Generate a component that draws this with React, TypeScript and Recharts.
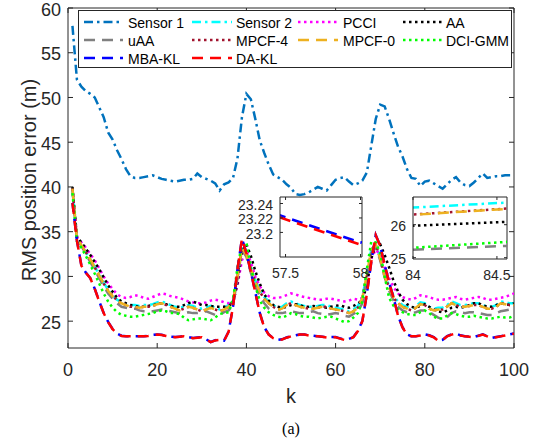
import React from 'react';
import { LineChart, Line, XAxis, YAxis, ReferenceLine } from 'recharts';

// time steps
const K = Array.from({ length: 100 }, (_, i) => i + 1);

const SENSOR_1 = [
  58.0, 52.0, 51.2, 50.7, 50.4, 50.0, 48.9, 47.8, 46.1, 45.3,
  44.1, 43.1, 42.0, 41.2, 41.0, 41.0, 41.1, 41.2, 41.3, 41.1,
  40.9, 40.8, 40.7, 40.6, 40.7, 40.8, 40.8, 40.9, 41.5, 41.1,
  40.9, 40.7, 40.4, 39.6, 40.3, 40.5, 41.0, 43.2, 47.8, 50.4,
  49.8, 47.6, 45.2, 43.8, 42.5, 41.4, 41.1, 40.8, 40.3, 39.9,
  39.2, 39.1, 39.2, 39.4, 39.7, 40.0, 39.8, 39.6, 40.2, 40.8,
  41.0, 41.1, 40.6, 40.2, 40.4, 40.7, 41.6, 44.6, 47.6, 49.2,
  49.0, 47.6, 46.0, 44.5, 43.4, 42.0, 41.0, 40.9, 40.1, 40.6,
  40.7, 40.4, 40.1, 39.8, 40.3, 40.8, 41.1, 40.5, 40.2, 40.1,
  40.5, 41.0, 41.5, 41.0, 41.1, 41.2, 41.2, 41.3, 41.3, 41.3,
];

const SENSOR_2 = [
  39.6, 34.3, 33.5, 32.7, 31.9, 31.1, 30.2, 29.3, 28.5, 27.9,
  27.4, 27.1, 26.9, 26.8, 26.8, 26.7, 26.8, 26.8, 26.9, 27.1,
  27.2, 27.0, 26.8, 26.6, 26.5, 26.6, 26.8, 26.7, 26.5, 26.4,
  26.5, 26.7, 26.5, 26.3, 26.5, 26.8, 27.4, 30.0, 33.1, 32.5,
  31.0, 29.6, 28.5, 27.7, 27.2, 26.8, 26.5, 26.6, 27.0, 27.2,
  27.0, 26.8, 26.7, 26.6, 26.6, 26.7, 26.8, 26.8, 26.6, 26.5,
  26.4, 26.3, 26.1, 26.3, 26.7, 27.7, 30.3, 33.0, 33.6, 32.1,
  30.2, 29.0, 27.8, 27.2, 26.8, 26.6, 26.4, 26.7, 27.1, 27.0,
  26.6, 26.4, 26.5, 26.52, 26.79, 27.2, 27.0, 26.8, 26.8, 26.9,
  27.0, 27.0, 26.8, 26.6, 26.6, 26.8, 27.2, 27.1, 27.0, 27.0,
];

const PCCI = [
  39.8, 34.4, 33.8, 33.2, 32.5, 31.8, 30.9, 30.0, 29.2, 28.6,
  28.0, 27.7, 27.6, 27.7, 27.9, 27.8, 27.6, 27.5, 27.7, 27.9,
  28.1, 28.0, 27.8, 27.7, 27.6, 27.4, 27.2, 27.1, 27.0, 27.0,
  27.1, 27.3, 27.4, 27.3, 27.1, 27.0, 27.2, 29.0, 31.8, 32.8,
  31.6, 30.0, 28.9, 28.2, 27.8, 27.6, 27.6, 27.7, 27.9, 28.1,
  28.0, 27.8, 27.7, 27.6, 27.5, 27.4, 27.4, 27.5, 27.5, 27.4,
  27.3, 27.2, 27.3, 27.5, 27.4, 27.6, 29.3, 32.0, 33.0, 32.4,
  31.0, 29.8, 28.8, 28.1, 27.7, 27.5, 27.4, 27.6, 27.9, 27.8,
  27.7, 27.5, 27.4, 27.4, 27.5, 27.6, 27.7, 27.5, 27.4, 27.5,
  27.6, 27.7, 27.6, 27.4, 27.4, 27.5, 27.6, 27.7, 27.9, 28.1,
];

const AA = [
  40.0, 34.5, 33.8, 33.1, 32.4, 31.6, 30.8, 29.9, 29.0, 28.3,
  27.6, 27.2, 27.0, 26.8, 26.7, 26.6, 26.6, 26.7, 26.8, 26.9,
  27.0, 26.9, 26.7, 26.6, 26.6, 26.8, 27.0, 27.2, 27.0, 26.8,
  26.8, 26.7, 26.6, 26.6, 26.6, 26.7, 27.0, 29.3, 32.8, 33.6,
  32.3, 30.6, 29.2, 28.0, 27.3, 26.8, 26.6, 26.5, 26.6, 26.8,
  26.9, 26.8, 26.6, 26.6, 26.7, 26.6, 26.6, 26.5, 26.6, 26.7,
  26.8, 26.6, 26.5, 26.7, 27.0, 27.3, 29.0, 32.0, 33.5, 33.6,
  32.4, 31.0, 29.5, 28.3, 27.4, 26.9, 26.6, 26.5, 26.7, 26.9,
  26.6, 26.3, 26.1, 25.97, 26.18, 26.5, 26.6, 26.5, 26.6, 26.8,
  27.0, 27.0, 26.8, 26.6, 26.6, 26.8, 27.0, 26.9, 26.8, 27.0,
];

const UAA = [
  39.7, 34.2, 33.4, 32.5, 31.6, 30.7, 29.8, 28.9, 28.1, 27.5,
  27.0, 26.6, 26.5, 26.4, 26.4, 26.2, 26.1, 26.1, 26.1, 26.2,
  26.3, 26.2, 26.1, 26.0, 25.9, 25.9, 26.0, 25.9, 25.9, 26.0,
  26.1, 25.9, 25.7, 25.7, 26.0, 26.2, 26.8, 29.8, 33.0, 32.2,
  30.4, 28.9, 27.8, 27.0, 26.4, 26.1, 25.9, 25.9, 26.0, 26.1,
  26.0, 25.9, 25.9, 26.0, 26.1, 25.9, 25.8, 25.7, 25.8, 25.9,
  25.8, 25.6, 25.5, 25.8, 26.1, 27.0, 29.8, 32.6, 33.2, 31.8,
  29.9, 28.4, 27.3, 26.6, 26.2, 26.0, 25.9, 26.0, 26.2, 26.2,
  26.0, 25.7, 25.4, 25.24, 25.45, 25.9, 26.1, 26.0, 25.9, 26.0,
  26.0, 25.9, 25.8, 25.7, 25.7, 25.9, 26.1, 26.2, 26.3, 26.4,
];

const MPCF_4 = [
  39.8, 34.3, 33.5, 32.7, 31.9, 31.0, 30.1, 29.2, 28.4, 27.9,
  27.3, 27.0, 26.8, 26.6, 26.6, 26.5, 26.6, 26.6, 26.7, 26.9,
  27.0, 26.8, 26.6, 26.4, 26.2, 26.4, 26.6, 26.5, 26.3, 26.1,
  26.3, 26.5, 26.3, 26.1, 26.3, 26.6, 27.3, 30.0, 33.2, 32.4,
  30.9, 29.4, 28.3, 27.5, 27.0, 26.6, 26.3, 26.4, 26.8, 27.0,
  26.8, 26.6, 26.5, 26.4, 26.4, 26.5, 26.6, 26.6, 26.4, 26.3,
  26.2, 26.1, 25.9, 26.1, 26.5, 27.6, 30.2, 33.0, 33.6, 32.0,
  30.0, 28.8, 27.6, 27.0, 26.6, 26.4, 26.2, 26.5, 26.9, 26.8,
  26.4, 26.2, 26.3, 26.31, 26.63, 27.0, 26.8, 26.6, 26.6, 26.7,
  26.8, 26.8, 26.6, 26.4, 26.4, 26.6, 27.0, 26.9, 26.8, 26.8,
];

const MPCF_0 = [
  39.8, 34.3, 33.5, 32.7, 31.9, 31.0, 30.1, 29.2, 28.4, 27.8,
  27.3, 27.0, 26.8, 26.6, 26.6, 26.5, 26.6, 26.6, 26.7, 26.9,
  27.0, 26.8, 26.6, 26.4, 26.2, 26.4, 26.6, 26.5, 26.3, 26.1,
  26.3, 26.5, 26.3, 26.1, 26.3, 26.6, 27.3, 30.0, 33.2, 32.4,
  30.8, 29.4, 28.3, 27.5, 27.0, 26.6, 26.3, 26.4, 26.8, 27.0,
  26.8, 26.6, 26.5, 26.4, 26.4, 26.5, 26.6, 26.6, 26.4, 26.3,
  26.2, 26.1, 25.9, 26.1, 26.5, 27.6, 30.2, 33.0, 33.6, 32.0,
  30.0, 28.8, 27.6, 27.0, 26.6, 26.4, 26.2, 26.5, 26.9, 26.8,
  26.4, 26.2, 26.3, 26.3, 26.62, 27.0, 26.8, 26.6, 26.6, 26.7,
  26.8, 26.8, 26.6, 26.4, 26.4, 26.6, 27.0, 26.9, 26.8, 26.8,
];

const DCI_GMM = [
  39.3, 33.9, 33.2, 32.3, 31.3, 30.3, 29.2, 28.1, 27.2, 26.5,
  26.0, 25.7, 25.6, 25.5, 25.5, 25.6, 25.7, 25.8, 25.9, 26.1,
  26.2, 26.1, 25.9, 25.9, 25.8, 25.4, 25.1, 25.2, 25.3, 25.3,
  25.2, 25.1, 25.4, 25.8, 25.9, 26.0, 27.4, 31.0, 33.6, 33.8,
  31.0, 28.9, 27.3, 26.5, 26.0, 25.7, 25.5, 25.4, 25.6, 25.9,
  25.8, 25.6, 25.5, 25.5, 25.4, 25.3, 25.4, 25.5, 25.5, 25.3,
  25.1, 24.9, 25.0, 25.4, 25.9, 27.2, 30.8, 33.9, 33.8, 32.6,
  30.0, 27.6, 26.7, 26.3, 26.0, 25.8, 25.7, 25.7, 26.0, 26.2,
  25.9, 25.5, 25.3, 25.3, 25.62, 25.9, 25.8, 25.6, 25.5, 25.5,
  25.6, 25.5, 25.4, 25.3, 25.3, 25.4, 25.5, 25.4, 25.4, 25.6,
];

const MBA_KL = [
  38.22, 34.03, 31.22, 30.42, 29.82, 28.62, 27.22, 25.92, 24.92, 24.12,
  23.62, 23.37, 23.32, 23.32, 23.32, 23.32, 23.32, 23.37, 23.47, 23.52,
  23.47, 23.37, 23.27, 23.22, 23.27, 23.32, 23.22, 23.12, 23.17, 23.22,
  22.97, 22.67, 22.87, 22.92, 22.82, 23.82, 26.62, 30.82, 34.22, 32.62,
  30.52, 28.22, 25.92, 24.32, 23.52, 23.12, 22.92, 22.97, 23.17, 23.32,
  23.42, 23.52, 23.52, 23.42, 23.37, 23.32, 23.256, 23.186, 23.22, 23.22,
  23.07, 22.92, 23.02, 23.22, 23.92, 25.02, 28.02, 31.62, 34.62, 33.42,
  31.32, 29.32, 27.62, 25.62, 24.32, 23.52, 23.32, 23.32, 23.42, 23.52,
  23.42, 23.22, 22.82, 22.92, 23.32, 23.52, 23.62, 23.42, 23.32, 23.27,
  23.22, 23.37, 23.52, 23.32, 23.12, 23.22, 23.32, 23.42, 23.52, 23.62,
];

const DA_KL = [
  38.2, 34.0, 31.2, 30.4, 29.8, 28.6, 27.2, 25.9, 24.9, 24.1,
  23.6, 23.35, 23.3, 23.3, 23.3, 23.3, 23.3, 23.35, 23.45, 23.5,
  23.45, 23.35, 23.25, 23.2, 23.25, 23.3, 23.2, 23.1, 23.15, 23.2,
  22.95, 22.65, 22.85, 22.9, 22.8, 23.8, 26.6, 30.8, 34.2, 32.6,
  30.5, 28.2, 25.9, 24.3, 23.5, 23.1, 22.9, 22.95, 23.15, 23.3,
  23.4, 23.5, 23.5, 23.4, 23.35, 23.3, 23.253, 23.183, 23.2, 23.2,
  23.05, 22.9, 23.0, 23.2, 23.9, 25.0, 28.0, 31.6, 34.6, 33.4,
  31.3, 29.3, 27.6, 25.6, 24.3, 23.5, 23.3, 23.3, 23.4, 23.5,
  23.4, 23.2, 22.8, 22.9, 23.3, 23.5, 23.6, 23.4, 23.3, 23.25,
  23.2, 23.35, 23.5, 23.3, 23.1, 23.2, 23.3, 23.4, 23.5, 23.6,
];

const X_TICKS = [0, 20, 40, 60, 80, 100];
const Y_TICKS = [25, 30, 35, 40, 45, 50, 55, 60];
const ZOOM_A_X = [57.5, 58];
const ZOOM_A_Y = [23.2, 23.22, 23.24];
const ZOOM_B_X = [84, 84.5];
const ZOOM_B_Y = [25, 26];

const W = 543;
const H = 447;
const AXIS = '#262626';
const FONT = '"Liberation Sans", Arial, Helvetica, sans-serif';

const DASH = '11 7';
const DOT = '2.5 3.5';
const DASH_DOT = '9 4 2.5 4';

interface SeriesDef {
  key: string;
  name: string;
  values: number[];
  color: string;
  dash: string;
  offset?: number;
}

// drawing order: later entries end up on top
const SERIES: SeriesDef[] = [
  { key: 's1', name: 'Sensor 1', values: SENSOR_1, color: '#0072BD', dash: DASH_DOT },
  { key: 's2', name: 'Sensor 2', values: SENSOR_2, color: '#00FFFF', dash: DASH_DOT },
  { key: 'pcci', name: 'PCCI', values: PCCI, color: '#FF00FF', dash: DOT },
  { key: 'aa', name: 'AA', values: AA, color: '#000000', dash: DOT },
  { key: 'uaa', name: 'uAA', values: UAA, color: '#808080', dash: DASH },
  { key: 'mpcf4', name: 'MPCF-4', values: MPCF_4, color: '#A2142F', dash: DOT },
  { key: 'mpcf0', name: 'MPCF-0', values: MPCF_0, color: '#EDB120', dash: DASH },
  { key: 'dci', name: 'DCI-GMM', values: DCI_GMM, color: '#00FF00', dash: DOT },
  { key: 'mba', name: 'MBA-KL', values: MBA_KL, color: '#0000FF', dash: DASH, offset: 2 },
  { key: 'da', name: 'DA-KL', values: DA_KL, color: '#FF0000', dash: DASH },
];

const rows = K.map((k, i) => {
  const r: Record<string, number> = { k };
  SERIES.forEach(s => {
    r[s.key] = s.values[i];
  });
  return r;
});

interface Box {
  left: number;
  top: number;
  right: number;
  bottom: number;
}

const MAIN_BOX: Box = { left: 68, top: 8, right: 514, bottom: 348 };
const BOX_A: Box = { left: 280, top: 197, right: 362, bottom: 257 };
const BOX_B: Box = { left: 413, top: 197, right: 507, bottom: 259 };

// ticks point inward on both sides of the box, MATLAB style
function bottomTick(box: Box, labelY: number, size: number, len: number) {
  return (props: any) => {
    const { x, payload } = props;
    return (
      <g>
        <line x1={x} x2={x} y1={box.bottom} y2={box.bottom - len} stroke={AXIS} />
        <line x1={x} x2={x} y1={box.top} y2={box.top + len} stroke={AXIS} />
        <text x={x} y={labelY} textAnchor="middle" dominantBaseline="central"
          fontSize={size} fontFamily={FONT} fill={AXIS}>
          {String(payload.value)}
        </text>
      </g>
    );
  };
}

function leftTick(box: Box, labelX: number, size: number, len: number) {
  return (props: any) => {
    const { y, payload } = props;
    return (
      <g>
        <line x1={box.left} x2={box.left + len} y1={y} y2={y} stroke={AXIS} />
        <line x1={box.right} x2={box.right - len} y1={y} y2={y} stroke={AXIS} />
        <text x={labelX} y={y + 1.5} textAnchor="end" dominantBaseline="central"
          fontSize={size} fontFamily={FONT} fill={AXIS}>
          {String(payload.value)}
        </text>
      </g>
    );
  };
}

function seriesLines() {
  return SERIES.map(s => (
    <Line
      key={s.key}
      type="linear"
      dataKey={s.key}
      name={s.name}
      stroke={s.color}
      strokeWidth={2.5}
      strokeDasharray={s.dash}
      strokeDashoffset={s.offset}
      dot={false}
      activeDot={false}
      isAnimationActive={false}
    />
  ));
}

function marginFor(box: Box, yAxisW: number, xAxisH: number) {
  return {
    top: box.top,
    right: W - box.right,
    bottom: H - box.bottom - xAxisH,
    left: box.left - yAxisW,
  };
}

interface ZoomProps {
  box: Box;
  xDomain: [number, number];
  yDomain: [number, number];
  xTicks: number[];
  yTicks: number[];
  xLabelY: number;
  yLabelX: number;
}

function ZoomPanel({ box, xDomain, yDomain, xTicks, yTicks, xLabelY, yLabelX }: ZoomProps) {
  return (
    <>
      <div style={{
        position: 'absolute', left: box.left, top: box.top,
        width: box.right - box.left, height: box.bottom - box.top, background: '#fff',
      }} />
      <div style={{ position: 'absolute', left: 0, top: 0 }}>
        <LineChart width={W} height={H} data={rows} margin={marginFor(box, 30, 20)}>
          <XAxis dataKey="k" type="number" domain={xDomain} allowDataOverflow ticks={xTicks}
            interval={0} height={20} tickLine={false} axisLine={{ stroke: AXIS }}
            tick={bottomTick(box, xLabelY, 14, 3)} />
          <YAxis type="number" domain={yDomain} allowDataOverflow ticks={yTicks}
            interval={0} width={30} tickLine={false} axisLine={{ stroke: AXIS }}
            tick={leftTick(box, yLabelX, 14, 3)} />
          <ReferenceLine y={yDomain[1]} stroke={AXIS} />
          <ReferenceLine x={xDomain[1]} stroke={AXIS} />
          {seriesLines()}
        </LineChart>
      </div>
    </>
  );
}

const LEGEND_COLS = [
  { x1: 84, x2: 123, tx: 128 },
  { x1: 192, x2: 232, tx: 236 },
  { x1: 298, x2: 338, tx: 343 },
  { x1: 403, x2: 442, tx: 446 },
];
const LEGEND_ROWS = [22, 40, 58];

function LegendBox() {
  return (
    <g>
      <rect x={78.5} y={10.5} width={433} height={57} fill="#fff" stroke={AXIS} />
      {SERIES.map((s, i) => {
        const c = LEGEND_COLS[i % 4];
        const y = LEGEND_ROWS[Math.floor(i / 4)];
        return (
          <g key={s.key}>
            <line x1={c.x1} x2={c.x2} y1={y} y2={y} stroke={s.color} strokeWidth={2.5}
              strokeDasharray={s.dash} />
            <text x={c.tx} y={y + 1} dominantBaseline="central" fontSize={14}
              fontFamily={FONT} fill="#000">
              {s.name}
            </text>
          </g>
        );
      })}
    </g>
  );
}

export default function App() {
  return (
    <div style={{ position: 'absolute', left: 0, top: 0, width: W, height: H, background: '#fff' }}>
      <div style={{ position: 'absolute', left: 0, top: 0 }}>
        <LineChart width={W} height={H} data={rows} margin={marginFor(MAIN_BOX, 60, 30)}>
          <XAxis dataKey="k" type="number" domain={[0, 100]} allowDataOverflow ticks={X_TICKS}
            interval={0} height={30} tickLine={false} axisLine={{ stroke: AXIS }}
            tick={bottomTick(MAIN_BOX, 370, 18, 5)} />
          <YAxis type="number" domain={[22, 60]} allowDataOverflow ticks={Y_TICKS}
            interval={0} width={60} tickLine={false} axisLine={{ stroke: AXIS }}
            tick={leftTick(MAIN_BOX, 61, 18, 5)} />
          <ReferenceLine y={60} stroke={AXIS} />
          <ReferenceLine x={100} stroke={AXIS} />
          {seriesLines()}
        </LineChart>
      </div>
      <svg width={W} height={H} style={{ position: 'absolute', left: 0, top: 0 }}>
        <LegendBox />
        <text x={291} y={396} textAnchor="middle" dominantBaseline="central" fontSize={20}
          fontFamily={FONT} fill={AXIS}>k</text>
        <text x={29} y={180} textAnchor="middle" dominantBaseline="central" fontSize={20}
          fontFamily={FONT} fill={AXIS} transform="rotate(-90 29 180)">
          RMS position error (m)
        </text>
        <text x={291} y={428} textAnchor="middle" dominantBaseline="central" fontSize={16}
          fontFamily='"Liberation Serif", "Times New Roman", serif' fill="#000">(a)</text>
      </svg>
      <ZoomPanel box={BOX_A} xDomain={[57.463, 58.01]} yDomain={[23.166, 23.249]}
        xTicks={ZOOM_A_X} yTicks={ZOOM_A_Y} xLabelY={273} yLabelX={273} />
      <ZoomPanel box={BOX_B} xDomain={[84, 84.56]} yDomain={[24.96, 26.84]}
        xTicks={ZOOM_B_X} yTicks={ZOOM_B_Y} xLabelY={275} yLabelX={406} />
    </div>
  );
}
